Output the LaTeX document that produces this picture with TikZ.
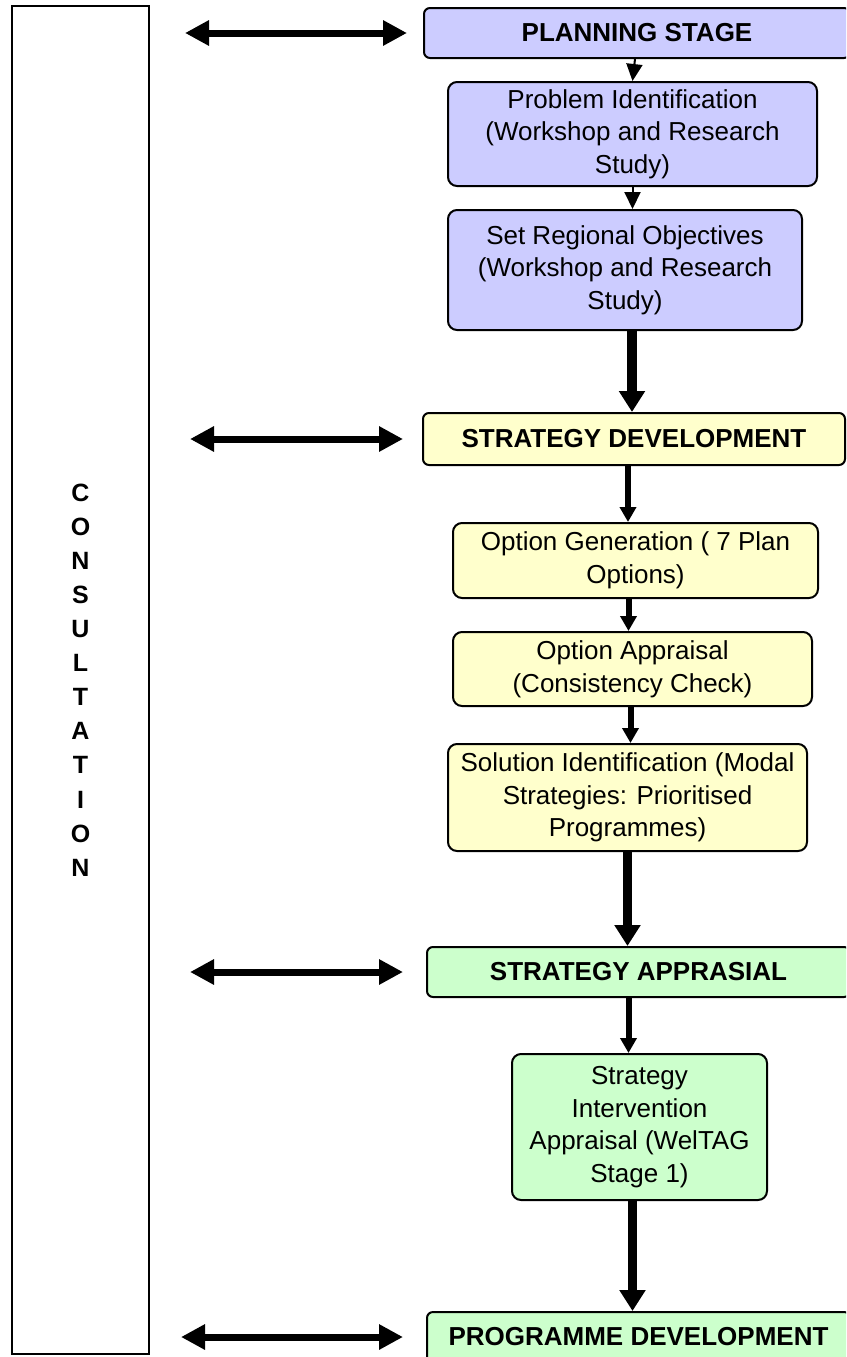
\documentclass[tikz,border=0pt]{standalone}
\usepackage{fontspec}
\setmainfont{Liberation Sans}
\usepackage{xcolor}
\definecolor{plan-blue}{HTML}{CCCCFF}
\definecolor{develop-yellow}{HTML}{FFFFCC}
\definecolor{appraise-green}{HTML}{CCFFCC}
\usepackage{tikz}
\usetikzlibrary{arrows.meta}

\tikzset{
    stage-box/.style={draw, line width=2pt, rounded corners=6pt, inner sep=0pt, align=center, font=\fontsize{26}{32.7}\selectfont\bfseries},
    step-box/.style={draw, line width=2pt, rounded corners=9pt, inner sep=0pt, align=center, font=\fontsize{26}{32.7}\selectfont},
    side-box/.style={draw, line width=2pt, inner sep=0pt, align=center, font=\fontsize{25}{34.1}\selectfont\bfseries},
    thin-link/.style={line width=2pt, -{Triangle[length=17pt, width=16pt]}},
    mid-link/.style={line width=6pt, -{Triangle[length=15pt, width=16pt]}},
    bold-link/.style={line width=9.5pt, -{Triangle[length=21pt, width=25pt]}},
    two-way/.style={line width=7pt, {Triangle[length=24pt, width=24pt]}-{Triangle[length=24pt, width=24pt]}}
}

\begin{document}
\begin{tikzpicture}[x=1pt, y=-1pt]

    % Frame
    \useasboundingbox (0, 0) rectangle (846, 1357);
    \clip (0, 0) rectangle (846, 1357);

    % Consultation
    \node[side-box, minimum width=137, minimum height=1348] (consult) at (80.5, 680) {C\\O\\N\\S\\U\\L\\T\\A\\T\\I\\O\\N};

    % Planning
    \node[stage-box, fill=plan-blue, minimum width=426, minimum height=50] (plan) at (637, 33) {PLANNING STAGE};
    \node[step-box, fill=plan-blue, minimum width=369, minimum height=104] (prob) at (632.5, 134) {Problem Identification\\(Workshop and Research\\Study)};
    \node[step-box, fill=plan-blue, minimum width=354, minimum height=120] (setreg) at (625, 270) {Set Regional Objectives\\(Workshop and Research\\Study)};

    % Strategy development
    \node[stage-box, fill=develop-yellow, minimum width=422, minimum height=52] (develop) at (634, 439) {STRATEGY DEVELOPMENT};
    \node[step-box, fill=develop-yellow, minimum width=365, minimum height=75] (optgen) at (635.5, 560.5) {Option Generation ( 7 Plan\\Options)};
    \node[step-box, fill=develop-yellow, minimum width=359, minimum height=74] (optapp) at (632.5, 669) {Option Appraisal\\(Consistency Check)};
    \node[step-box, fill=develop-yellow, minimum width=359, minimum height=107] (solution) at (627.5, 797.5) {Solution Identification (Modal\\Strategies: Prioritised\\Programmes)};

    % Strategy appraisal
    \node[stage-box, fill=appraise-green, minimum width=423, minimum height=50] (appraise) at (638.5, 972) {STRATEGY APPRASIAL};
    \node[step-box, fill=appraise-green, minimum width=255, minimum height=146] (weltag) at (639.5, 1127) {Strategy\\Intervention\\Appraisal (WelTAG\\Stage 1)};

    % Programme development
    \node[stage-box, fill=appraise-green, minimum width=423, minimum height=50] (programme) at (638.5, 1337) {PROGRAMME DEVELOPMENT};

    % Flow
    \draw[thin-link] ([xshift=-2pt]plan.south) -- (prob.north);
    \draw[thin-link] (prob.south) -- (prob.south |- setreg.north);
    \draw[bold-link] ([xshift=-2pt]develop.north |- setreg.south) -- ([xshift=-2pt]develop.north);
    \draw[mid-link] ([xshift=-6pt]develop.south) -- ([xshift=-6pt]develop.south |- optgen.north);
    \draw[mid-link] ([xshift=-7pt]optgen.south) -- ([xshift=-7pt]optgen.south |- optapp.north);
    \draw[mid-link] ([xshift=-2pt]optapp.south) -- ([xshift=-2pt]optapp.south |- solution.north);
    \draw[bold-link] (solution.south) -- (solution.south |- appraise.north);
    \draw[mid-link] ([xshift=-10pt]appraise.south) -- ([xshift=-10pt]appraise.south |- weltag.north);
    \draw[bold-link] ([xshift=-7pt]weltag.south) -- ([xshift=-7pt]weltag.south |- programme.north);

    % Consultation links
    \draw[two-way, shorten <=35pt, shorten >=16pt] (consult.east |- plan.west) -- (plan.west);
    \draw[two-way, shorten <=40pt, shorten >=19pt] (consult.east |- develop.west) -- (develop.west);
    \draw[two-way, shorten <=40pt, shorten >=23pt] (consult.east |- appraise.west) -- (appraise.west);
    \draw[two-way, shorten <=31pt, shorten >=23pt] (consult.east |- programme.west) -- (programme.west);

\end{tikzpicture}
\end{document}
